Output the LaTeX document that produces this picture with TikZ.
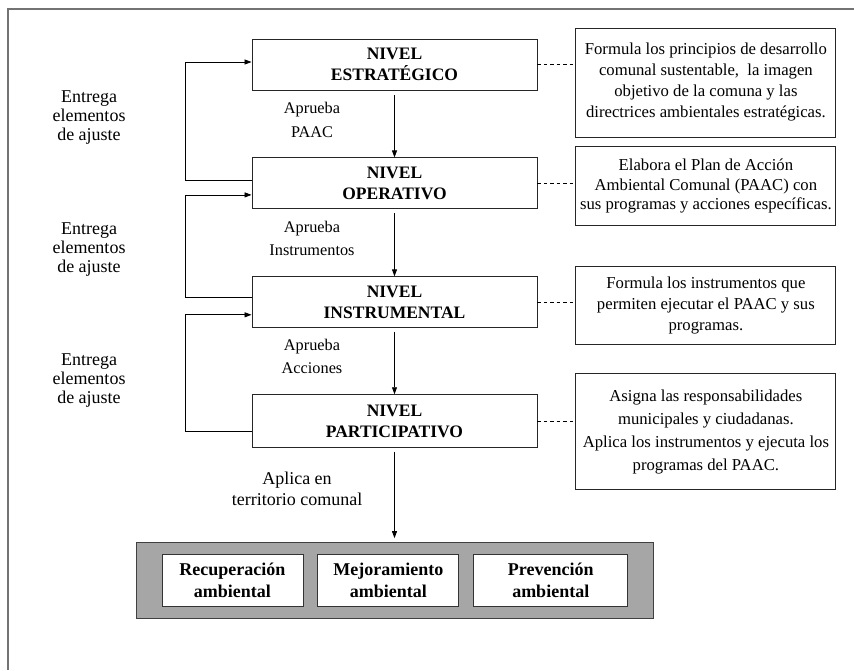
\documentclass[tikz,border=0pt]{standalone}
\usepackage{fontspec}
\setmainfont{Liberation Serif}
\usetikzlibrary{positioning,arrows.meta}
\tikzset{
  nivel/.style={draw=black!85, line width=0.9pt, minimum width=285pt, minimum height=51pt,
    align=center, font=\fontsize{17.5}{21}\selectfont\bfseries},
  nota/.style={draw=black!85, line width=0.9pt, minimum width=260pt, inner sep=3pt,
    align=center, font=\fontsize{16.7}{21}\selectfont},
  etiq/.style={align=center, font=\fontsize{16.3}{24}\selectfont},
  ajuste/.style={align=center, font=\fontsize{18}{19}\selectfont},
  accion/.style={draw=black!80, fill=white, line width=0.9pt, minimum height=52pt,
    align=center, font=\fontsize{18}{22}\selectfont\bfseries},
  flecha/.style={-{Triangle[length=7pt,width=5pt]}, line width=0.8pt},
  enlace/.style={line width=0.8pt, dash pattern=on 3.5pt off 3pt}
}

\begin{document}
\begin{tikzpicture}
            \useasboundingbox (0,0) rectangle (854pt,-670pt);
            \draw[black!55, line width=1.2pt] (8pt,-670pt) -- (8pt,-9pt) -- (854pt,-9pt);

            % Define nodes
            \node[nivel] (est) at (394.5pt,-64.5pt) {NIVEL\\ESTRATÉGICO};
            \node[nivel, below=67pt of est] (ope) {NIVEL\\OPERATIVO};
            \node[nivel, below=67pt of ope] (ins) {NIVEL\\INSTRUMENTAL};
            \node[nivel, below=66pt of ins, minimum height=53pt] (par) {NIVEL\\PARTICIPATIVO};

            \node[nota, right=38pt of est, yshift=-18pt, minimum height=109pt] (r1)
              {Formula los principios de desarrollo\\comunal sustentable,\ \ la imagen\\objetivo de la comuna y las\\directrices ambientales estratégicas.};
            \node[nota, right=38pt of ope, yshift=-3pt, minimum height=79pt, font=\fontsize{16.7}{19.5}\selectfont] (r2)
              {Elabora el Plan de Acción\\Ambiental Comunal (PAAC) con\\sus programas y acciones específicas.};
            \node[nota, right=38pt of ins, yshift=-3.5pt, minimum height=78pt] (r3)
              {Formula los instrumentos que\\permiten ejecutar el PAAC y sus\\programas.};
            \node[nota, right=38pt of par, yshift=-10.5pt, minimum height=116pt, font=\fontsize{16.7}{23}\selectfont] (r4)
              {Asigna las responsabilidades\\municipales y ciudadanas.\\Aplica los instrumentos y ejecuta los\\programas del PAAC.};

            \node[draw=black!75, fill=black!35, line width=1pt, minimum width=517pt, minimum height=76pt,
              below=94pt of par] (terr) {};
            \node[accion, minimum width=141pt, right=26pt of terr.west] (rec) {Recuperación\\ambiental};
            \node[accion, minimum width=141pt, right=14pt of rec] (mej) {Mejoramiento\\ambiental};
            \node[accion, minimum width=154pt, right=14pt of mej] (pre) {Prevención\\ambiental};

            \node[etiq] (ap1) at (312pt,-120pt) {Aprueba\\PAAC};
            \node[etiq, font=\fontsize{16.3}{23}\selectfont] (ap2) at (312pt,-238pt) {Aprueba\\Instrumentos};
            \node[etiq, font=\fontsize{16.3}{23}\selectfont] (ap3) at (312pt,-356pt) {Aprueba\\Acciones};
            \node[ajuste, font=\fontsize{18}{21}\selectfont] (apl) at (297pt,-489pt) {Aplica en\\territorio comunal};

            \node[ajuste] (aj1) at (89pt,-118pt) {Entrega\\elementos\\de ajuste};
            \node[ajuste] (aj2) at (89pt,-250pt) {Entrega\\elementos\\de ajuste};
            \node[ajuste] (aj3) at (89pt,-381pt) {Entrega\\elementos\\de ajuste};

            % Connect the nodes
            \draw[flecha, shorten <=5pt] (est) -- (ope);
            \draw[flecha, shorten <=4pt] (ope) -- (ins);
            \draw[flecha, shorten <=4pt] (ins) -- (par);
            \draw[flecha, shorten <=4pt, shorten >=4pt] (par) -- (terr);

            \draw[flecha] ([yshift=3.5pt]ope.west) -- ++(-66pt,0) |- ([yshift=2.5pt]est.west);
            \draw[flecha] ([yshift=4.5pt]ins.west) -- ++(-66pt,0) |- ([yshift=-11.5pt]ope.west);
            \draw[flecha] ([yshift=-10.5pt]par.west) -- ++(-66pt,0) |- ([yshift=-12.5pt]ins.west);

            \draw[enlace] (est.east) -- (est.east -| r1.west);
            \draw[enlace] (ope.east) -- (ope.east -| r2.west);
            \draw[enlace] (ins.east) -- (ins.east -| r3.west);
            \draw[enlace] (par.east) -- (par.east -| r4.west);
          \end{tikzpicture}
\end{document}
